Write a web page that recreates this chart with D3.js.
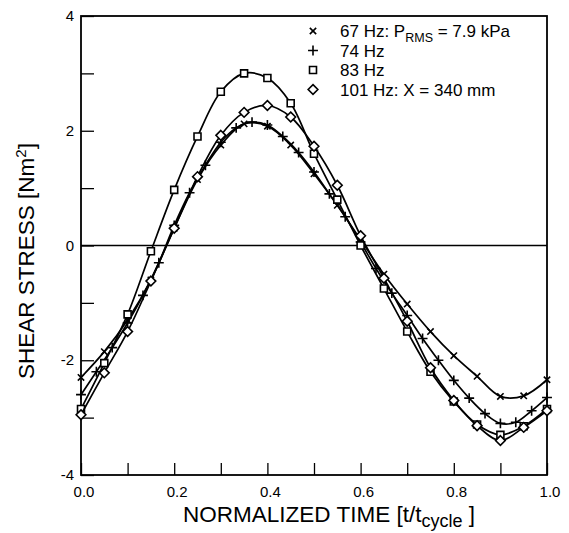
<!DOCTYPE html>
<html>
<head>
<meta charset="utf-8">
<script src="https://cdn.jsdelivr.net/npm/d3@7"></script>
<style>
  body { margin: 0; background: #fff; }
  svg { display: block; font-family: Arial, "Liberation Sans", Helvetica, sans-serif; }
</style>
</head>
<body>
<div id="chart"></div>
<script>
// sample times (normalized)
const timeSteps = [0, 0.05, 0.10, 0.15, 0.20, 0.25, 0.30, 0.35, 0.40, 0.45, 0.50,
                   0.55, 0.60, 0.65, 0.70, 0.75, 0.80, 0.85, 0.90, 0.95, 1.00];
const timeStepsFine = [0, 0.033, 0.067, 0.100, 0.133, 0.167, 0.200, 0.233, 0.267, 0.300, 0.333,
                       0.367, 0.400, 0.433, 0.467, 0.500, 0.533, 0.567, 0.600, 0.633, 0.667,
                       0.700, 0.733, 0.767, 0.800, 0.833, 0.867, 0.900, 0.933, 0.967, 1.000];

// shear stress readings
const shear67 = [-2.30, -1.85, -1.30, -0.60, 0.30, 1.15, 1.75, 2.12, 2.08, 1.75, 1.25,
                 0.70, 0.10, -0.50, -1.02, -1.50, -1.92, -2.28, -2.63, -2.62, -2.34];
const shear74 = [-2.60, -2.20, -1.78, -1.35, -0.87, -0.30, 0.35, 0.92, 1.40, 1.80, 2.05,
                 2.15, 2.10, 1.90, 1.62, 1.28, 0.90, 0.50, 0.06, -0.40, -0.83,
                 -1.22, -1.62, -2.00, -2.35, -2.66, -2.93, -3.10, -3.08, -2.88, -2.65];
const shear83 = [-2.85, -2.05, -1.20, -0.10, 0.97, 1.90, 2.68, 3.00, 2.92, 2.48, 1.60,
                 0.80, 0.00, -0.75, -1.50, -2.20, -2.72, -3.12, -3.30, -3.15, -2.85];
const shear101 = [-2.95, -2.22, -1.50, -0.62, 0.30, 1.20, 1.92, 2.32, 2.44, 2.24, 1.73,
                  1.05, 0.17, -0.57, -1.32, -2.13, -2.70, -3.14, -3.40, -3.17, -2.88];

const xTicks = [0, 0.1, 0.2, 0.3, 0.4, 0.5, 0.6, 0.7, 0.8, 0.9, 1.0];
const yTicks = [-4, -3, -2, -1, 0, 1, 2, 3, 4];

const width = 569, height = 533;
const margin = {top: 16, right: 22, bottom: 57, left: 81};

const svg = d3.select("#chart").append("svg")
    .attr("width", width)
    .attr("height", height);

const x = d3.scaleLinear().domain([0, 1]).range([margin.left, width - margin.right]);
const y = d3.scaleLinear().domain([-4, 4]).range([height - margin.bottom - 1, margin.top]);

const series = [
    {label: "67 Hz", t: timeSteps, v: shear67, symbol: d3.symbolTimes, size: 28, fill: "none"},
    {label: "74 Hz", t: timeStepsFine, v: shear74, symbol: d3.symbolPlus, size: 34, fill: "none"},
    {label: "83 Hz", t: timeSteps, v: shear83, symbol: d3.symbolSquare2, size: 62, fill: "#fff"},
    {label: "101 Hz", t: timeSteps, v: shear101, symbol: d3.symbolDiamond2, size: 60, fill: "#fff"}
];

// zero line
svg.append("line")
    .attr("x1", x(0)).attr("x2", x(1))
    .attr("y1", y(0)).attr("y2", y(0))
    .attr("stroke", "#000").attr("stroke-width", 1.3);

// axes (ticks pointing inward)
svg.append("g")
    .attr("transform", `translate(0,${y(-4)})`)
    .call(d3.axisTop(x).tickValues(xTicks).tickSize(12).tickFormat(""))
    .call(g => g.select(".domain").remove())
    .call(g => g.selectAll("line").attr("stroke-width", 1.3));

svg.append("g")
    .attr("transform", `translate(${x(0)},0)`)
    .call(d3.axisRight(y).tickValues(yTicks).tickSize(13).tickFormat(""))
    .call(g => g.select(".domain").remove())
    .call(g => g.selectAll("line").attr("stroke-width", 1.3));

// tick labels
svg.append("g").selectAll("text")
    .data(xTicks.filter((d, i) => i % 2 === 0))
    .join("text")
    .attr("x", d => x(d) + 3)
    .attr("y", y(-4) + 22)
    .attr("text-anchor", "middle")
    .attr("font-size", 15)
    .text(d => d3.format(".1f")(d));

svg.append("g").selectAll("text")
    .data(yTicks.filter(d => d % 2 === 0))
    .join("text")
    .attr("x", x(0) - 7)
    .attr("y", d => y(d) + 5)
    .attr("text-anchor", "end")
    .attr("font-size", 15)
    .text(d => d);

// frame
svg.append("rect")
    .attr("x", x(0)).attr("y", y(4))
    .attr("width", x(1) - x(0)).attr("height", y(-4) - y(4))
    .attr("fill", "none").attr("stroke", "#000").attr("stroke-width", 1.8);

// curves
const line = d3.line()
    .x(d => x(d[0]))
    .y(d => y(d[1]))
    .curve(d3.curveCatmullRom.alpha(0.5));

series.forEach(s => {
    const pts = s.t.map((t, i) => [t, s.v[i]]);
    svg.append("path")
        .datum(pts)
        .attr("fill", "none")
        .attr("stroke", "#000")
        .attr("stroke-width", 1.7)
        .attr("d", line);
    svg.append("g").selectAll("path")
        .data(pts)
        .join("path")
        .attr("transform", d => `translate(${x(d[0])},${y(d[1])})`)
        .attr("d", d3.symbol(s.symbol, s.size))
        .attr("fill", s.fill)
        .attr("stroke", "#000")
        .attr("stroke-width", 1.6);
});

// legend
const legend = svg.append("g").attr("transform", "translate(313,31)");
const legendRows = legend.selectAll("g")
    .data(series)
    .join("g")
    .attr("transform", (d, i) => `translate(0,${i * 19.5})`);

legendRows.append("path")
    .attr("d", d => d3.symbol(d.symbol, d.size)())
    .attr("fill", d => d.fill)
    .attr("stroke", "#000")
    .attr("stroke-width", 1.6);

const legendText = legendRows.append("text")
    .attr("x", 27)
    .attr("y", 6)
    .attr("font-size", 17);

legendText.each(function(d, i) {
    const t = d3.select(this);
    if (i === 0) {
        t.append("tspan").text("67 Hz: P");
        t.append("tspan").attr("font-size", 12.5).attr("dy", 5).text("RMS");
        t.append("tspan").attr("dy", -5).text(" = 7.9 kPa");
    } else if (i === 3) {
        t.text("101 Hz: X = 340 mm");
    } else {
        t.text(d.label);
    }
});

// axis titles
const xTitle = svg.append("text")
    .attr("x", 329)
    .attr("y", 522)
    .attr("text-anchor", "middle")
    .attr("font-size", 22.5);
xTitle.append("tspan").text("NORMALIZED TIME [t/t");
xTitle.append("tspan").attr("font-size", 18).attr("dy", 5).text("cycle");
xTitle.append("tspan").attr("dy", -5).text(" ]");

const yTitle = svg.append("text")
    .attr("transform", "translate(34,261) rotate(-90)")
    .attr("text-anchor", "middle")
    .attr("font-size", 22.5);
yTitle.append("tspan").text("SHEAR STRESS [Nm");
yTitle.append("tspan").attr("font-size", 15).attr("dy", -8).text("2");
yTitle.append("tspan").attr("dy", 8).text("]");
</script>
</body>
</html>
